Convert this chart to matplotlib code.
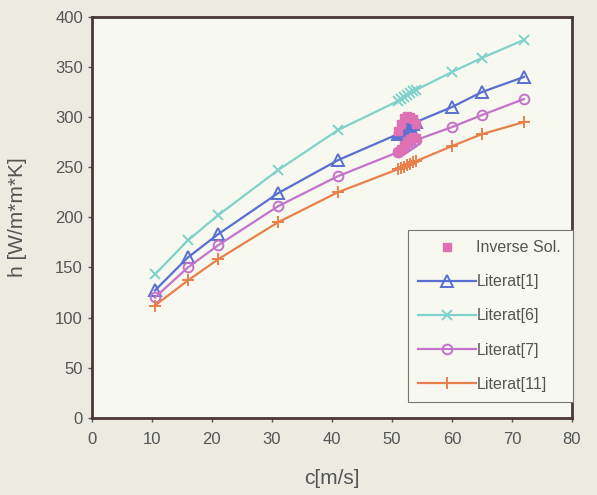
import numpy as np
import matplotlib.pyplot as plt

plt.rcParams['font.family'] = ['Liberation Sans', 'DejaVu Sans']

# velocity points (shared by the literature curves)
c = [10.5, 16, 21, 31, 41, 51, 51.5, 52, 52.5, 53, 53.5, 54, 60, 65, 72]

h_lit1 = [127, 160, 183, 224, 257, 283, 285, 287, 289, 291, 293, 295, 310, 325, 340]
h_lit6 = [143, 177, 202, 247, 287, 316, 318, 320, 322, 324, 326, 327, 345, 359, 377]
h_lit7 = [120, 150, 172, 211, 241, 265, 267, 269, 271, 273, 275, 277, 290, 302, 318]
h_lit11 = [112, 137, 158, 195, 225, 248, 249, 250, 252, 253, 255, 256, 271, 283, 295]

# inverse solution points
c_inv = [51, 51.5, 52, 52.5, 53, 53.5, 54, 51, 51.5, 52, 52.5, 53, 53.5, 54]
h_inv = [286, 293, 299, 301, 300, 298, 293, 265, 268, 272, 276, 278, 280, 279]

fig = plt.figure(figsize=(5.97, 4.95), dpi=100)
fig.patch.set_facecolor('#ecebe0')
ax = fig.add_axes([0.154, 0.156, 0.804, 0.81])
ax.set_facecolor('#f7f8ef')

ax.plot(c_inv, h_inv, 's', color='#e070b4', ms=6, ls='none', label='Inverse Sol.', zorder=5)
ax.plot(c, h_lit1, '-^', color='#5a6fd2', mfc='none', ms=8, mew=1.4, lw=1.6, label='Literat[1]')
ax.plot(c, h_lit6, '-x', color='#80d2cc', ms=7, mew=1.4, lw=1.6, label='Literat[6]')
ax.plot(c, h_lit7, '-o', color='#c373c9', mfc='none', ms=7, mew=1.4, lw=1.6, label='Literat[7]')
ax.plot(c, h_lit11, '-+', color='#e9804c', ms=8, mew=1.4, lw=1.6, label='Literat[11]')

ax.set_xlim(0, 80)
ax.set_ylim(0, 400)
ax.set_xticks(np.arange(0, 81, 10))
ax.set_yticks(np.arange(0, 401, 50))
ax.tick_params(colors='#555555', labelsize=12, length=3, width=1)
ax.tick_params(axis='x', pad=7)
for s in ax.spines.values():
    s.set_color('#4a3838')
    s.set_linewidth(2)

ax.set_xlabel('c[m/s]', fontsize=15, color='#555555', labelpad=16)
ax.set_ylabel('h [W/m*m*K]', fontsize=15, color='#555555', labelpad=20)

leg = ax.legend(loc='upper left', bbox_to_anchor=(0.658, 0.469, 0.345, 0.0), mode='expand',
                borderaxespad=0, fontsize=11.5, fancybox=False, handlelength=3.6,
                handletextpad=0.05, labelspacing=1.2, borderpad=0.65,
                facecolor='#f7f8ef', framealpha=1)
leg.get_frame().set_edgecolor('#777777')
leg.get_frame().set_linewidth(0.8)
for t in leg.get_texts():
    t.set_color('#555555')

plt.savefig('out.png', dpi=100, facecolor=fig.get_facecolor())
